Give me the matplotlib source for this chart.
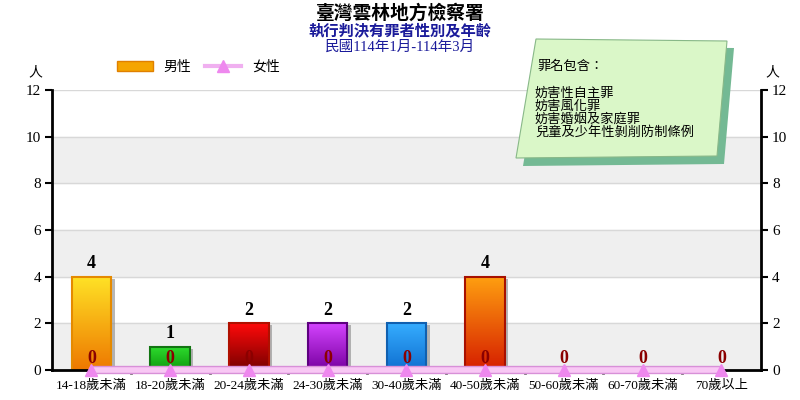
import numpy as np
import matplotlib.pyplot as plt
from matplotlib.patches import Polygon, Patch
from matplotlib.lines import Line2D
from matplotlib.colors import LinearSegmentedColormap
import matplotlib.patheffects as pe

plt.rcParams['font.family'] = ['Liberation Serif', 'Noto Sans CJK TC', 'DejaVu Sans']

# data
categories = ['14-18歲未滿', '18-20歲未滿', '20-24歲未滿', '24-30歲未滿', '30-40歲未滿',
              '40-50歲未滿', '50-60歲未滿', '60-70歲未滿', '70歲以上']
male = [4, 1, 2, 2, 2, 4, 0, 0, 0]
female = [0, 0, 0, 0, 0, 0, 0, 0, 0]
yticks = [0, 2, 4, 6, 8, 10, 12]
crimes = ['妨害性自主罪', '妨害風化罪', '妨害婚姻及家庭罪', '兒童及少年性剝削防制條例']

# (top, bottom, edge) colours of each bar
bar_colors = [('#FFE326', '#EE7800', '#E58A00'),
              ('#2EDD2E', '#0F9A0F', '#127512'),
              ('#FF0A0A', '#780000', '#B01000'),
              ('#D444FF', '#7800A0', '#5E0080'),
              ('#36ADFF', '#0F6FD0', '#1060B0'),
              ('#FFA010', '#D61E00', '#A81000'),
              ('#FFE326', '#EE7800', '#E58A00'),
              ('#FFE326', '#EE7800', '#E58A00'),
              ('#FFE326', '#EE7800', '#E58A00')]

fig = plt.figure(figsize=(8, 4), dpi=100)
ax = fig.add_axes([0.065, 0.075, 0.886, 0.70])

x = np.arange(len(categories)) + 0.5

# alternating bands + grid lines
for lo in range(0, 12, 4):
    ax.axhspan(lo, lo + 2, color='#EFEFEF', zorder=0)
for y in yticks[1:]:
    ax.axhline(y, color='#D8D8D8', lw=1, zorder=0.5)

# shadow layer, gradient fill, then outline
bars = ax.bar(x, male, width=0.5, facecolor='#AAAAAA', edgecolor='none', zorder=1.8)
for b in bars:
    b.set_path_effects([pe.SimplePatchShadow(offset=(2.5, -1.5), shadow_rgbFace='#888888', alpha=0.6)])
outlines = ax.bar(x, male, width=0.5, fill=False, linewidth=1.5, zorder=2.2)

grad = np.linspace(0, 1, 256).reshape(-1, 1)
for b, ol, (top, bot, edge) in zip(bars, outlines, bar_colors):
    ol.set_edgecolor(edge)
    h = b.get_height()
    if h <= 0:
        ol.set_visible(False)
        continue
    x0, w = b.get_x(), b.get_width()
    cm = LinearSegmentedColormap.from_list('g', [bot, top])
    im = ax.imshow(grad, cmap=cm, origin='lower', aspect='auto',
                   extent=(x0, x0 + w, 0, h), zorder=2.0)
    im.set_clip_path(b)
    ax.annotate(str(h), (x0 + w / 2, h), xytext=(0, 3), textcoords='offset points',
                ha='center', va='bottom', fontsize=13, fontweight='bold', color='black')

ax.set_xlim(0, len(categories))
ax.set_ylim(0, 12)

# female line
ax.plot(x, female, color='#D890D8', lw=6, solid_capstyle='butt', zorder=3, clip_on=False)
ax.plot(x, female, color='#F8C8F4', lw=4, solid_capstyle='butt', zorder=3.1, clip_on=False,
        marker='^', markersize=9, markerfacecolor='#EE88EE', markeredgecolor='#EE88EE')
for xi, v in zip(x, female):
    ax.annotate(str(v), (xi, v), xytext=(0, 2.5), textcoords='offset points',
                ha='center', va='bottom', fontsize=13, fontweight='bold', color='#8B0000', zorder=4)

# axes styling
for s in ['left', 'right', 'bottom']:
    ax.spines[s].set_linewidth(2)
    ax.spines[s].set_color('black')
ax.spines['top'].set_visible(False)
ax.set_yticks(yticks)
ax.tick_params(axis='y', left=True, right=True, labelleft=True, labelright=True,
               length=5, width=1.5, labelsize=11, pad=3)
ax.set_xticks(x)
ax.set_xticklabels(categories, fontsize=9.5)
ax.tick_params(axis='x', length=0, pad=7)
ax.set_xticks(np.arange(1, len(categories)), minor=True)
ax.tick_params(axis='x', which='minor', length=3, width=2, direction='out')

fig.text(0.044, 0.818, '人', ha='center', va='center', fontsize=10, family=['Noto Sans CJK TC'])
fig.text(0.965, 0.818, '人', ha='center', va='center', fontsize=10, family=['Noto Sans CJK TC'])

# titles
fig.text(0.5, 0.968, '臺灣雲林地方檢察署', ha='center', va='center', fontsize=13.5,
         fontweight='bold', color='black', family=['Noto Sans CJK TC'])
fig.text(0.5, 0.925, '執行判決有罪者性別及年齡', ha='center', va='center', fontsize=11,
         fontweight='bold', color='#1A1A9A', family=['Noto Sans CJK TC'])
fig.text(0.5, 0.883, '民國114年1月-114年3月', ha='center', va='center', fontsize=10.5,
         color='#1A1A9A', family=['Liberation Serif', 'Noto Sans CJK TC'])

# legend
handles = [Patch(facecolor='#F5A500', edgecolor='#E08000', label='男性'),
           Line2D([0], [0], color='#F0B0F0', lw=3, marker='^', markersize=8,
                  markerfacecolor='#EE88EE', markeredgecolor='#EE88EE', label='女性')]
fig.legend(handles=handles, loc='center left', bbox_to_anchor=(0.13, 0.833), ncol=2,
           frameon=False, handlelength=2.6, columnspacing=1.0,
           prop={'family': ['Noto Sans CJK TC'], 'size': 10})

# note box
W, H = 800, 400
def px(pts):
    return [(a / W, 1 - b / H) for a, b in pts]
shadow = Polygon(px([(543, 46), (734, 48), (724, 164), (523, 166)]), closed=True,
                 facecolor='#74B994', edgecolor='none', transform=fig.transFigure, zorder=5)
box = Polygon(px([(536, 39), (727, 41), (717, 156), (516, 158)]), closed=True,
              facecolor='#DAF7C8', edgecolor='#88B888', lw=0.8, transform=fig.transFigure, zorder=6)
fig.add_artist(shadow)
fig.add_artist(box)
fig.text(537 / W, 1 - 66 / H, '罪名包含：', ha='left', va='center', fontsize=9.5,
         family=['Noto Sans CJK TC'], zorder=7)
for i, line in enumerate(crimes):
    fig.text(535 / W, 1 - (93 + 13 * i) / H, line, ha='left', va='center', fontsize=9.5,
             family=['Noto Sans CJK TC'], zorder=7)

fig.savefig('out.png', dpi=100)
